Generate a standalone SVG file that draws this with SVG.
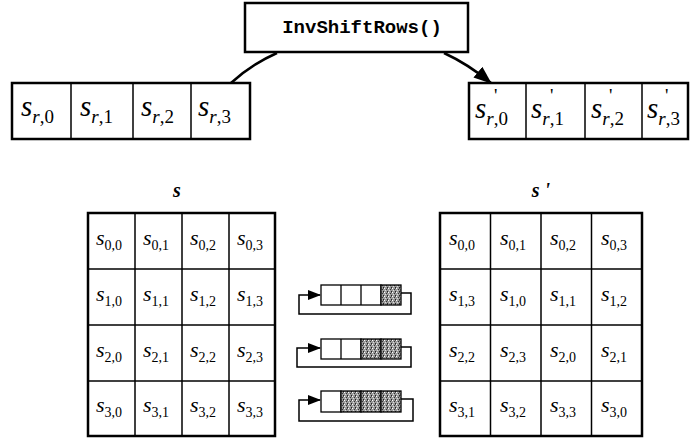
<svg xmlns="http://www.w3.org/2000/svg" width="693" height="439" viewBox="0 0 693 439">
  <style>
    .box { fill: #fff; stroke: #000; stroke-width: 2.5; }
    .cell { fill: none; stroke: #000; stroke-width: 1.5; }
    .thin { fill: none; stroke: #000; stroke-width: 1.3; }
    .fn { font-family: "Liberation Mono", monospace; font-weight: bold; font-size: 19px; }
    .big { font-family: "Liberation Serif", serif; font-style: italic; font-size: 29px; }
    .bigsub { font-family: "Liberation Serif", serif; font-style: normal; font-size: 19px; }
    .s { font-family: "Liberation Serif", serif; font-style: italic; font-size: 22px; }
    .sub { font-family: "Liberation Serif", serif; font-style: normal; font-size: 14px; }
    .lbl { font-family: "Liberation Serif", serif; font-style: italic; font-weight: bold; font-size: 20px; }
    .conn { fill: none; stroke: #000; stroke-width: 2.5; }
    .loop { fill: none; stroke: #000; stroke-width: 1.5; }
    .shade { fill: url(#grain); stroke: #000; stroke-width: 1.3; }
  </style>
  <defs>
    <marker id="arrow" markerWidth="13" markerHeight="10" refX="12" refY="5" orient="auto" markerUnits="userSpaceOnUse" viewBox="0 0 13 10">
      <path d="M0,0 L13,5 L0,10 Z" fill="#000"/>
    </marker>
    <marker id="bigArrow" markerWidth="18" markerHeight="14" refX="17" refY="7" orient="auto" markerUnits="userSpaceOnUse" viewBox="0 0 18 14">
      <path d="M0,0 L18,7 L0,14 Z" fill="#000"/>
    </marker>
    <pattern id="grain" width="4" height="4" patternUnits="userSpaceOnUse">
      <rect width="4" height="4" fill="#9a9a9a"/>
      <rect x="0" y="0" width="1" height="1" fill="#fff"/>
      <rect x="2" y="1" width="1" height="1" fill="#333"/>
      <rect x="1" y="2" width="1" height="1" fill="#ddd"/>
      <rect x="3" y="3" width="1" height="1" fill="#222"/>
      <rect x="3" y="0" width="1" height="1" fill="#555"/>
    </pattern>
  </defs>

  <!-- operation box -->
  <g id="op">
    <rect class="box" x="245" y="3" width="223" height="49"/>
    <text class="fn" x="362" y="33" text-anchor="middle">InvShiftRows()</text>
  </g>

  <!-- input row -->
  <g id="row-in">
    <rect class="box" x="12" y="83" width="238" height="56"/>
    <line class="cell" x1="71" y1="83" x2="71" y2="139"/>
    <line class="cell" x1="133" y1="83" x2="133" y2="139"/>
    <line class="cell" x1="191" y1="83" x2="191" y2="139"/>
    <text class="big" x="21" y="116">s<tspan class="bigsub" dy="7"><tspan font-style="italic">r</tspan>,0</tspan></text>
    <text class="big" x="80" y="116">s<tspan class="bigsub" dy="7"><tspan font-style="italic">r</tspan>,1</tspan></text>
    <text class="big" x="141" y="116">s<tspan class="bigsub" dy="7"><tspan font-style="italic">r</tspan>,2</tspan></text>
    <text class="big" x="198" y="116">s<tspan class="bigsub" dy="7"><tspan font-style="italic">r</tspan>,3</tspan></text>
  </g>

  <!-- output row -->
  <g id="row-out">
    <rect class="box" x="469" y="83" width="219" height="56"/>
    <line class="cell" x1="526" y1="83" x2="526" y2="139"/>
    <line class="cell" x1="585" y1="83" x2="585" y2="139"/>
    <line class="cell" x1="642" y1="83" x2="642" y2="139"/>
    <text class="big" x="475" y="118">s<tspan class="bigsub" dy="7"><tspan font-style="italic">r</tspan>,0</tspan></text>
    <text class="big" x="531" y="118">s<tspan class="bigsub" dy="7"><tspan font-style="italic">r</tspan>,1</tspan></text>
    <text class="big" x="591" y="118">s<tspan class="bigsub" dy="7"><tspan font-style="italic">r</tspan>,2</tspan></text>
    <text class="big" x="647" y="118">s<tspan class="bigsub" dy="7"><tspan font-style="italic">r</tspan>,3</tspan></text>
    <text class="bigsub" x="494" y="102">'</text>
    <text class="bigsub" x="550" y="102">'</text>
    <text class="bigsub" x="609" y="102">'</text>
    <text class="bigsub" x="665" y="102">'</text>
  </g>

  <!-- connectors -->
  <g id="connectors">
    <path class="conn" d="M277,53 Q252,64 231,83"/>
    <path class="conn" d="M444,53 Q468,64 491,83" marker-end="url(#bigArrow)"/>
  </g>

  <!-- state labels -->
  <g id="labels">
    <text class="lbl" x="177" y="197" text-anchor="middle">s</text>
    <text class="lbl" x="541" y="197" text-anchor="middle">s '</text>
  </g>

  <!-- state s -->
  <g id="state-s">
    <rect class="box" fill="none" x="88" y="213" width="187" height="223"/>
    <line class="cell" x1="135" y1="213" x2="135" y2="436"/>
    <line class="cell" x1="182" y1="213" x2="182" y2="436"/>
    <line class="cell" x1="229" y1="213" x2="229" y2="436"/>
    <line class="cell" x1="88" y1="269" x2="275" y2="269"/>
    <line class="cell" x1="88" y1="325" x2="275" y2="325"/>
    <line class="cell" x1="88" y1="381" x2="275" y2="381"/>
    <g>
      <text class="s" x="96" y="245">s<tspan class="sub" dy="5">0,0</tspan></text>
      <text class="s" x="143" y="245">s<tspan class="sub" dy="5">0,1</tspan></text>
      <text class="s" x="190" y="245">s<tspan class="sub" dy="5">0,2</tspan></text>
      <text class="s" x="237" y="245">s<tspan class="sub" dy="5">0,3</tspan></text>
      <text class="s" x="96" y="301">s<tspan class="sub" dy="5">1,0</tspan></text>
      <text class="s" x="143" y="301">s<tspan class="sub" dy="5">1,1</tspan></text>
      <text class="s" x="190" y="301">s<tspan class="sub" dy="5">1,2</tspan></text>
      <text class="s" x="237" y="301">s<tspan class="sub" dy="5">1,3</tspan></text>
      <text class="s" x="96" y="357">s<tspan class="sub" dy="5">2,0</tspan></text>
      <text class="s" x="143" y="357">s<tspan class="sub" dy="5">2,1</tspan></text>
      <text class="s" x="190" y="357">s<tspan class="sub" dy="5">2,2</tspan></text>
      <text class="s" x="237" y="357">s<tspan class="sub" dy="5">2,3</tspan></text>
      <text class="s" x="96" y="412">s<tspan class="sub" dy="5">3,0</tspan></text>
      <text class="s" x="143" y="412">s<tspan class="sub" dy="5">3,1</tspan></text>
      <text class="s" x="190" y="412">s<tspan class="sub" dy="5">3,2</tspan></text>
      <text class="s" x="237" y="412">s<tspan class="sub" dy="5">3,3</tspan></text>
    </g>
  </g>

  <!-- state s' -->
  <g id="state-s-prime">
    <rect class="box" fill="none" x="440" y="213" width="202" height="223"/>
    <line class="cell" x1="490.5" y1="213" x2="490.5" y2="436"/>
    <line class="cell" x1="541" y1="213" x2="541" y2="436"/>
    <line class="cell" x1="591.5" y1="213" x2="591.5" y2="436"/>
    <line class="cell" x1="440" y1="269" x2="642" y2="269"/>
    <line class="cell" x1="440" y1="325" x2="642" y2="325"/>
    <line class="cell" x1="440" y1="381" x2="642" y2="381"/>
    <g>
      <text class="s" x="449" y="245">s<tspan class="sub" dy="5">0,0</tspan></text>
      <text class="s" x="500" y="245">s<tspan class="sub" dy="5">0,1</tspan></text>
      <text class="s" x="550" y="245">s<tspan class="sub" dy="5">0,2</tspan></text>
      <text class="s" x="601" y="245">s<tspan class="sub" dy="5">0,3</tspan></text>
      <text class="s" x="449" y="301">s<tspan class="sub" dy="5">1,3</tspan></text>
      <text class="s" x="500" y="301">s<tspan class="sub" dy="5">1,0</tspan></text>
      <text class="s" x="550" y="301">s<tspan class="sub" dy="5">1,1</tspan></text>
      <text class="s" x="601" y="301">s<tspan class="sub" dy="5">1,2</tspan></text>
      <text class="s" x="449" y="357">s<tspan class="sub" dy="5">2,2</tspan></text>
      <text class="s" x="500" y="357">s<tspan class="sub" dy="5">2,3</tspan></text>
      <text class="s" x="550" y="357">s<tspan class="sub" dy="5">2,0</tspan></text>
      <text class="s" x="601" y="357">s<tspan class="sub" dy="5">2,1</tspan></text>
      <text class="s" x="449" y="412">s<tspan class="sub" dy="5">3,1</tspan></text>
      <text class="s" x="500" y="412">s<tspan class="sub" dy="5">3,2</tspan></text>
      <text class="s" x="550" y="412">s<tspan class="sub" dy="5">3,3</tspan></text>
      <text class="s" x="601" y="412">s<tspan class="sub" dy="5">3,0</tspan></text>
    </g>
  </g>

  <!-- rotation icons, one per shifted row -->
  <g id="shift-1">
    <rect class="thin" x="321" y="285" width="60" height="20" fill="#fff"/>
    <line class="thin" x1="341" y1="285" x2="341" y2="305"/>
    <line class="thin" x1="361" y1="285" x2="361" y2="305"/>
    <rect class="shade" x="381" y="285" width="20" height="20"/>
    <path class="loop" d="M401,293 H411 V314 H299 V295 H320" marker-end="url(#arrow)"/>
  </g>
  <g id="shift-2">
    <rect class="thin" x="321" y="339" width="40" height="20" fill="#fff"/>
    <line class="thin" x1="341" y1="339" x2="341" y2="359"/>
    <rect class="shade" x="361" y="339" width="20" height="20"/>
    <rect class="shade" x="381" y="339" width="20" height="20"/>
    <path class="loop" d="M401,347 H411 V367 H297 V348 H320" marker-end="url(#arrow)"/>
  </g>
  <g id="shift-3">
    <rect class="thin" x="321" y="391" width="20" height="21" fill="#fff"/>
    <rect class="shade" x="341" y="391" width="20" height="21"/>
    <rect class="shade" x="361" y="391" width="20" height="21"/>
    <rect class="shade" x="381" y="391" width="20" height="21"/>
    <path class="loop" d="M401,399 H413 V421 H299 V400 H320" marker-end="url(#arrow)"/>
  </g>
</svg>
